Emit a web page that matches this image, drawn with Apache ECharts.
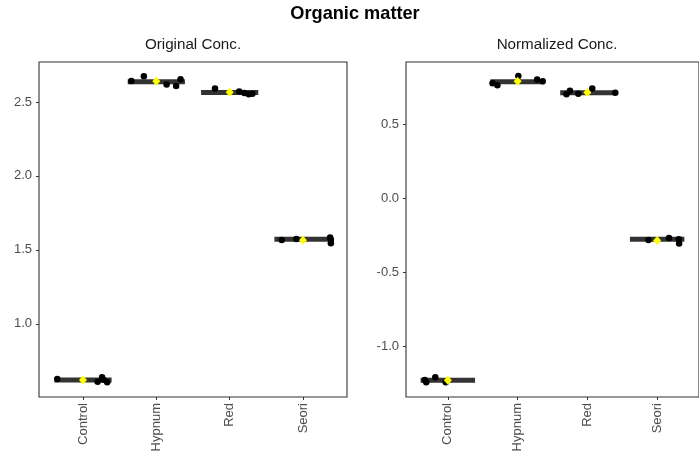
<!DOCTYPE html>
<html>
<head>
<meta charset="utf-8">
<script src="https://cdn.jsdelivr.net/npm/echarts@6/dist/echarts.min.js"></script>
<style>
  html, body { margin: 0; padding: 0; background: #ffffff; }
  #chart { width: 699px; height: 457px; }
</style>
</head>
<body>
<div id="chart"></div>
<script>
// ---------- data ----------
var categories = ['Control', 'Hypnum', 'Red', 'Seori'];
var mainTitle = 'Organic matter';
var panelTitles = ['Original Conc.', 'Normalized Conc.'];

// Original concentration: jittered x offsets and values per category
var origJitter = [
  [-0.35, 0.20, 0.26, 0.28, 0.33],
  [-0.34, -0.17, 0.14, 0.27, 0.33],
  [-0.20, 0.13, 0.20, 0.26, 0.31],
  [-0.29, -0.09, 0.37, 0.38, 0.38]
];
var origValues = [
  [0.626, 0.608, 0.638, 0.622, 0.605],
  [2.642, 2.674, 2.618, 2.608, 2.653],
  [2.590, 2.570, 2.561, 2.552, 2.556],
  [1.567, 1.573, 1.583, 1.545, 1.568]
];
var origBar = [0.620, 2.636, 2.5635, 1.572];
var origMean = [0.620, 2.640, 2.566, 1.565];
var origTicks = [1.0, 1.5, 2.0, 2.5];

// Normalized concentration
var normJitter = [
  [-0.33, -0.31, -0.18, -0.03],
  [-0.36, -0.29, 0.01, 0.28, 0.36],
  [-0.30, -0.25, -0.13, 0.07, 0.40],
  [-0.125, 0.17, 0.31, 0.315]
];
var normValues = [
  [-1.225, -1.240, -1.207, -1.240],
  [0.774, 0.762, 0.823, 0.800, 0.789],
  [0.700, 0.724, 0.704, 0.740, 0.711],
  [-0.281, -0.269, -0.276, -0.306]
];
var normBar = [-1.227, 0.785, 0.711, -0.276];
var normMean = [-1.227, 0.789, 0.713, -0.285];
var normTicks = [-1.0, -0.5, 0.0, 0.5];

var catPositions = [1, 2, 3, 4];

// ---------- build ----------
function points(jit, vals) {
  var out = [];
  for (var i = 0; i < vals.length; i++) {
    for (var j = 0; j < vals[i].length; j++) {
      out.push([catPositions[i] + jit[i][j], vals[i][j]]);
    }
  }
  return out;
}
function pairs(vals) {
  return vals.map(function (v, i) { return [catPositions[i], v]; });
}

var FONT = 'Liberation Sans, Arial, sans-serif';
var axisTextColor = '#4D4D4D';
var borderColor = '#333333';

function xAxisFor(gi) {
  return {
    type: 'value', gridIndex: gi, min: 0.4, max: 4.6,
    splitLine: { show: false },
    axisLine: { show: false, onZero: false },
    axisTick: { show: true, customValues: catPositions, length: 3, lineStyle: { color: borderColor, width: 1 } },
    axisLabel: {
      customValues: catPositions, rotate: 90, margin: 6,
      color: axisTextColor, fontSize: 13, fontFamily: FONT,
      formatter: function (v) { return categories[Math.round(v) - 1]; }
    }
  };
}
function yAxisFor(gi, min, max, ticks) {
  return {
    type: 'value', gridIndex: gi, min: min, max: max,
    splitLine: { show: false },
    axisLine: { show: false, onZero: false },
    axisTick: { show: true, customValues: ticks, length: 3, lineStyle: { color: borderColor, width: 1 } },
    axisLabel: {
      customValues: ticks, margin: 7,
      color: axisTextColor, fontSize: 13, fontFamily: FONT,
      formatter: function (v) { return v.toFixed(1); }
    }
  };
}

function barSeries(xi, yi, data) {
  return {
    type: 'custom', xAxisIndex: xi, yAxisIndex: yi, data: data, z: 2,
    renderItem: function (params, api) {
      var c = api.value(0), v = api.value(1);
      var p1 = api.coord([c - 0.39, v]);
      var p2 = api.coord([c + 0.39, v]);
      return {
        type: 'rect',
        shape: { x: p1[0], y: p1[1] - 2.5, width: p2[0] - p1[0], height: 5 },
        style: { fill: '#333333' }
      };
    }
  };
}
function pointSeries(xi, yi, data) {
  return {
    type: 'scatter', xAxisIndex: xi, yAxisIndex: yi, data: data, z: 3,
    symbol: 'circle', symbolSize: 6.5,
    itemStyle: { color: '#000000', opacity: 1 }
  };
}
function meanSeries(xi, yi, data) {
  return {
    type: 'scatter', xAxisIndex: xi, yAxisIndex: yi, data: data, z: 4,
    symbol: 'diamond', symbolSize: [8, 9],
    itemStyle: { color: '#FFFF00', opacity: 1 }
  };
}

var option = {
  animation: false,
  backgroundColor: '#ffffff',
  textStyle: { fontFamily: FONT },
  title: [
    { text: mainTitle, left: 355, top: 5, padding: 0, textAlign: 'center',
      textStyle: { fontSize: 18.2, fontWeight: 'bold', color: '#000000', fontFamily: FONT } },
    { text: panelTitles[0], left: 193, top: 37, padding: 0, textAlign: 'center',
      textStyle: { fontSize: 15.2, fontWeight: 'normal', color: '#1A1A1A', fontFamily: FONT } },
    { text: panelTitles[1], left: 557, top: 37, padding: 0, textAlign: 'center',
      textStyle: { fontSize: 15.2, fontWeight: 'normal', color: '#1A1A1A', fontFamily: FONT } }
  ],
  grid: [
    { left: 39, top: 62, width: 308, height: 335, show: true, borderColor: borderColor, borderWidth: 1.1, backgroundColor: '#ffffff' },
    { left: 406, top: 62, width: 302, height: 335, show: true, borderColor: borderColor, borderWidth: 1.1, backgroundColor: '#ffffff' }
  ],
  xAxis: [xAxisFor(0), xAxisFor(1)],
  yAxis: [yAxisFor(0, 0.505, 2.770, origTicks), yAxisFor(1, -1.340, 0.918, normTicks)],
  series: [
    barSeries(0, 0, pairs(origBar)),
    pointSeries(0, 0, points(origJitter, origValues)),
    meanSeries(0, 0, pairs(origMean)),
    barSeries(1, 1, pairs(normBar)),
    pointSeries(1, 1, points(normJitter, normValues)),
    meanSeries(1, 1, pairs(normMean))
  ]
};

var chart = echarts.init(document.getElementById('chart'), null, { renderer: 'canvas' });
chart.setOption(option);
</script>
</body>
</html>
